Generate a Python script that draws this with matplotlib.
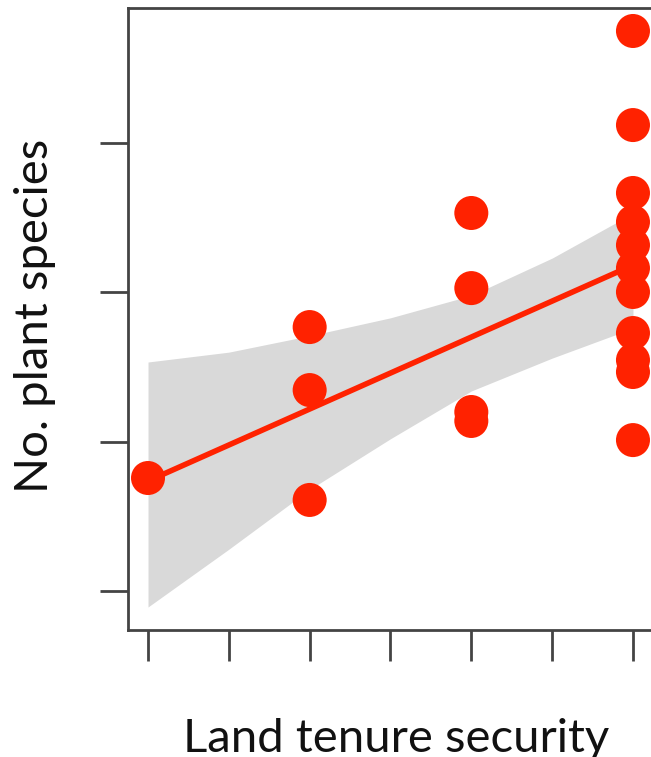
import numpy as np
import matplotlib
matplotlib.use("Agg")
import matplotlib.pyplot as plt

# tenure class and species count for each site
tenure = [1, 3, 3, 3, 5, 5, 5, 5, 7, 7, 7, 7, 7, 7, 7, 7, 7, 7, 7]
species = [0.757, 1.768, 1.346, 0.610, 2.532, 2.029, 1.199, 1.139,
           3.751, 3.121, 2.666, 2.472, 2.317, 2.163, 2.003, 1.728, 1.547, 1.467, 1.011]

# fitted line and its confidence band
fit_x = [1, 7]
fit_y = [0.737, 2.183]
band_x = [1, 2, 3, 4, 5, 6, 7]
band_lo = [-0.107, 0.28, 0.68, 1.02, 1.34, 1.56, 1.76]
band_hi = [1.534, 1.60, 1.71, 1.83, 1.98, 2.23, 2.53]

red = "#ff2200"
spine = "#444444"

plt.rcParams["font.family"] = ["Lato", "DejaVu Sans"]

fig = plt.figure(figsize=(6.51, 7.57), dpi=100)
ax = fig.add_axes([128 / 651, 127 / 757, 523 / 651, 622 / 757])

ax.fill_between(band_x, band_lo, band_hi, color="#d9d9d9", lw=0, zorder=1)
ax.plot(fit_x, fit_y, color=red, lw=4, solid_capstyle="butt", zorder=2)
ax.scatter(tenure, species, s=600, color=red, edgecolors="none", zorder=3)

ax.set_xlim(0.7525, 7.223)
ax.set_ylim(-0.261, 3.905)
ax.set_xticks(range(1, 8))
ax.set_yticks([0, 1, 2, 3])
ax.set_xticklabels([])
ax.set_yticklabels([])

ax.spines["right"].set_visible(False)
for side in ["left", "bottom", "top"]:
    ax.spines[side].set_color(spine)
    ax.spines[side].set_linewidth(2)
ax.tick_params(axis="y", direction="out", length=20, width=2, color=spine)
ax.tick_params(axis="x", direction="out", length=22, width=2, color=spine)

ax.set_ylabel("No. plant species", fontsize=34, color="#111111", va="baseline")
ax.yaxis.set_label_coords(-0.153, 0.505)
ax.set_xlabel("Land tenure security", fontsize=34, color="#111111", va="baseline")
ax.xaxis.set_label_coords(0.512, -0.196)

fig.savefig("out.png", dpi=100)
